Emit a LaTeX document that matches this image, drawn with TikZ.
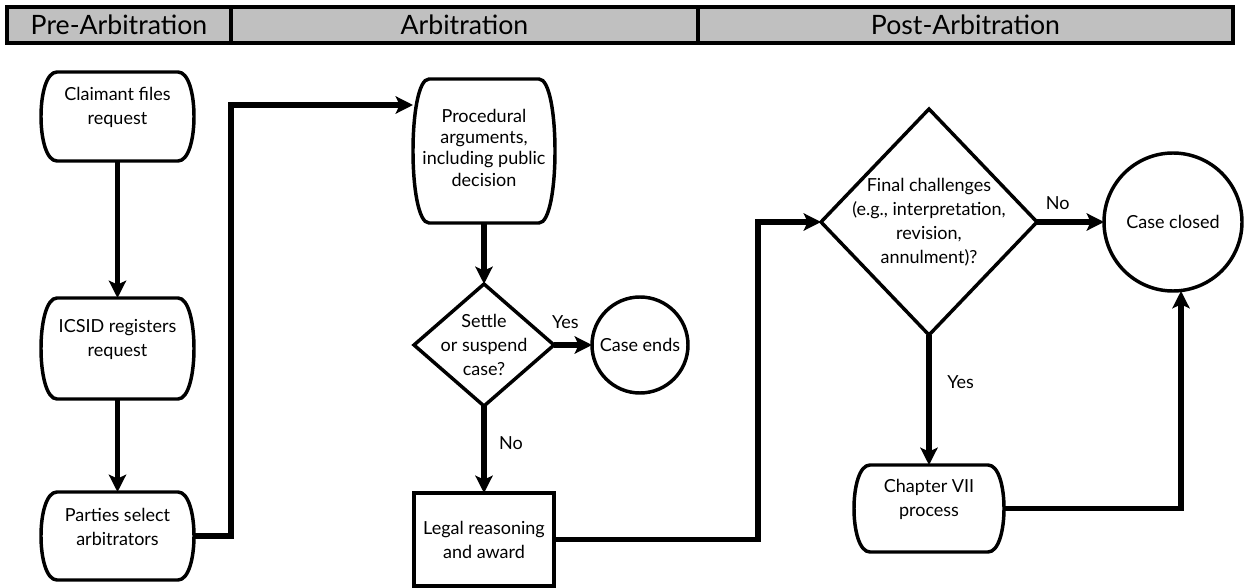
\documentclass[tikz,border=0pt]{standalone}
\usepackage{fontspec}
\setmainfont{Lato}
\usetikzlibrary{positioning}
\usetikzlibrary{arrows.meta}
\usetikzlibrary{shapes.geometric}
\definecolor{phasegray}{RGB}{192,192,192}
\tikzset{
        % Phase headers
        node_phase/.style={rectangle, draw=black, fill=phasegray, line width=3pt, outer sep=0pt, minimum height=27pt, anchor=west, font=\fontsize{20}{24}\selectfont},
        % Texts of the shapes
        boxtext/.style={align=center, font=\fontsize{13.5}{18}\selectfont},
        steptext/.style={boxtext, yshift=6.5pt},
        % Rounded steps
        node_step/.style={inner sep=0pt, outer sep=0pt,
            append after command={\pgfextra{
                \draw[line width=2.6pt] ([xshift=12pt]\tikzlastnode.north west) -- ([xshift=-12pt]\tikzlastnode.north east)
                    .. controls ([xshift=4pt]\tikzlastnode.north east) and ([xshift=4pt]\tikzlastnode.south east) .. ([xshift=-12pt]\tikzlastnode.south east)
                    -- ([xshift=12pt]\tikzlastnode.south west)
                    .. controls ([xshift=-4pt]\tikzlastnode.south west) and ([xshift=-4pt]\tikzlastnode.north west) .. cycle;
            }}},
        % Decisions
        node_decision/.style={diamond, draw=black, line width=2.6pt, inner sep=0pt, outer sep=0pt},
        % End points
        node_end/.style={circle, draw=black, line width=2.6pt, inner sep=0pt, outer sep=0pt, boxtext},
        % Award box
        node_award/.style={rectangle, draw=black, line width=2.6pt, inner sep=0pt, outer sep=0pt, boxtext},
        % Connectors
        flow/.style={line width=4pt, -{Stealth[length=13pt, width=13pt, inset=3pt]}},
        flowlabel/.style={font=\fontsize{13.5}{16}\selectfont}
}
\begin{document}
\begin{tikzpicture}[x=0.75pt, y=-0.75pt]
    \useasboundingbox (0,0) rectangle (1246,588);
    % headers
    \node[node_phase, minimum width=168pt] (pre) at (7,25) {Pre-Arbitration};
    \node[node_phase, minimum width=350.25pt, right=0pt of pre] (arb) {Arbitration};
    \node[node_phase, minimum width=401.25pt, right=0pt of arb] (post) {Post-Arbitration};

    % pre-arbitration
    \node[node_step, minimum width=114.75pt, minimum height=66.75pt,
        label={[steptext, name=claim_t]center:{Claimant files\\request}}] (claim) at (117.5,116.5) {};
    \node[node_step, minimum width=114.75pt, minimum height=75.75pt, below=102.75pt of claim,
        label={[steptext, name=icsid_t]center:{ICSID registers\\request}}] (icsid) {};
    \node[node_step, minimum width=114.75pt, minimum height=66pt, below=69.75pt of icsid,
        label={[steptext, name=parties_t]center:{Parties select\\arbitrators}}] (parties) {};

    % arbitration
    \node[node_step, minimum width=106.5pt, minimum height=108pt,
        label={[steptext, yshift=-4pt, font=\fontsize{13.5}{16}\selectfont, name=proc_t]center:{Procedural\\arguments,\\including public\\decision}}] (proc) at (484,151) {};
    \node[node_decision, minimum width=105pt, minimum height=91.5pt, below=45.75pt of proc,
        label={[boxtext, name=settle_t]center:{Settle\\or suspend\\case?}}] (settle) {};
    \node[node_end, minimum size=72pt, right=28.5pt of settle] (ends) {Case ends};
    \node[node_award, minimum width=105pt, minimum height=69.75pt, below=65.25pt of settle] (legal) {Legal reasoning\\and award};

    % post-arbitration
    \node[node_decision, minimum width=162pt, minimum height=169.5pt,
        label={[boxtext, name=final_t]center:{Final challenges\\(e.g., interpretation,\\revision,\\annulment)?}}] (final) at (929,222) {};
    \node[node_end, minimum size=103.5pt, right=50.25pt of final] (closed) {Case closed};
    \node[node_step, minimum width=112.5pt, minimum height=65.25pt, below=97.5pt of final,
        label={[steptext, name=chap_t]center:{Chapter VII\\process}}] (chap) {};

    \coordinate (jog1) at (231,300);
    \coordinate (jog2) at (758,400);

    % connectors
    \draw[flow] (claim) -- (icsid);
    \draw[flow] (icsid) -- (parties);
    \draw[flow] (parties.east) -| (jog1) |- ([yshift=34.5pt]proc.west);
    \draw[flow] (proc) -- (settle);
    \draw[flow] (settle) -- node[flowlabel, above=7pt, pos=0.3] (yes1) {Yes} (ends);
    \draw[flow] (settle) -- node[flowlabel, right=6pt, pos=0.43] (no1) {No} (legal);
    \draw[flow] (legal.east) -| (jog2) |- (final.west);
    \draw[flow] (final) -- node[flowlabel, above=4pt, pos=0.31] (no2) {No} (closed);
    \draw[flow] (final) -- node[flowlabel, right=8.5pt, pos=0.36] (yes2) {Yes} (chap);
    \draw[flow] (chap.east) -| ([xshift=6pt]closed.south);
\end{tikzpicture}
\end{document}
